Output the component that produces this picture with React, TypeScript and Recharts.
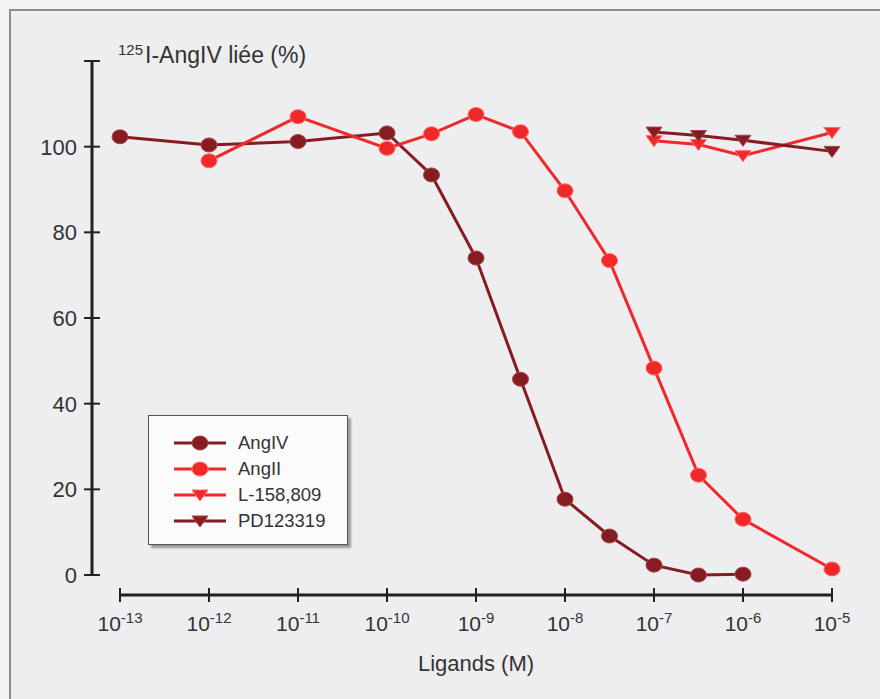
import React from 'react';
import { LineChart, Line, XAxis, YAxis, Legend } from 'recharts';

// log10 of the ligand concentration (M)
const angIVConc = [-13, -12, -11, -10, -9.5, -9, -8.5, -8, -7.5, -7, -6.5, -6];
const angIVBound = [102.3, 100.4, 101.2, 103.2, 93.4, 74, 45.7, 17.7, 9.1, 2.3, 0, 0.2];

const angIIConc = [-12, -11, -10, -9.5, -9, -8.5, -8, -7.5, -7, -6.5, -6, -5];
const angIIBound = [96.7, 107, 99.6, 103, 107.5, 103.5, 89.7, 73.4, 48.3, 23.3, 13, 1.4];

const antagConc = [-7, -6.5, -6, -5];
const l158809Bound = [101.4, 100.5, 97.9, 103.3];
const pd123319Bound = [103.4, 102.6, 101.5, 98.9];

const xTicks = [-13, -12, -11, -10, -9, -8, -7, -6, -5];
const yTicks = [0, 20, 40, 60, 80, 100, 120];

const DARK = '#861c21';
const RED = '#f0282a';
const FONT = '"Liberation Sans", Arial, Helvetica, sans-serif';

const toPoints = (xs: number[], ys: number[]) => xs.map((x, i) => ({ x, y: ys[i] }));

const series = [
  { name: 'AngIV', data: toPoints(angIVConc, angIVBound), color: DARK, shape: 'circle' },
  { name: 'AngII', data: toPoints(angIIConc, angIIBound), color: RED, shape: 'circle' },
  { name: 'L-158,809', data: toPoints(antagConc, l158809Bound), color: RED, shape: 'triangle' },
  { name: 'PD123319', data: toPoints(antagConc, pd123319Bound), color: DARK, shape: 'triangle' },
];

function Marker({ cx, cy, color, shape }: any) {
  const edge = color === DARK ? '#a34446' : '#ff6a62';
  if (shape === 'triangle') {
    return (
      <polygon
        points={`${cx - 8},${cy - 5} ${cx + 8},${cy - 5} ${cx},${cy + 6}`}
        fill={color}
        stroke={edge}
        strokeWidth={1}
      />
    );
  }
  return <ellipse cx={cx} cy={cy} rx={8} ry={7} fill={color} stroke={edge} strokeWidth={1} />;
}

function XTick({ x, y, payload }: any) {
  return (
    <g>
      <line x1={x} x2={x} y1={y - 7} y2={y + 7} stroke="#222" strokeWidth={2} />
      <text x={x} y={y + 36} textAnchor="middle" fontSize={21} fill="#333" fontFamily={FONT}>
        10
        <tspan dy={-8} fontSize={15}>
          {payload.value}
        </tspan>
      </text>
    </g>
  );
}

function YTick({ x, y, payload }: any) {
  return (
    <g>
      <line x1={x - 8} x2={x + 8} y1={y} y2={y} stroke="#222" strokeWidth={2} />
      {payload.value !== 120 && (
        <text x={x - 15} y={y + 8} textAnchor="end" fontSize={22} fill="#333" fontFamily={FONT}>
          {payload.value}
        </text>
      )}
    </g>
  );
}

function LegendBox() {
  return (
    <div
      style={{
        width: 200,
        height: 130,
        boxSizing: 'border-box',
        background: '#fbfbfb',
        border: '1.5px solid #555',
        boxShadow: '3px 3px 2px rgba(0,0,0,0.35)',
        paddingTop: 14,
        paddingLeft: 24,
        fontFamily: FONT,
      }}
    >
      {series.map((s) => (
        <div key={s.name} style={{ display: 'flex', alignItems: 'center', height: 26 }}>
          <svg width={54} height={20}>
            <line x1={1} x2={53} y1={10} y2={10} stroke={s.color} strokeWidth={3} />
            <Marker cx={27} cy={10} color={s.color} shape={s.shape} />
          </svg>
          <span style={{ marginLeft: 11, fontSize: 18.5, color: '#333' }}>{s.name}</span>
        </div>
      ))}
    </div>
  );
}

export default function App() {
  return (
    <div
      style={{
        position: 'absolute',
        left: 0,
        top: 0,
        width: 880,
        height: 699,
        overflow: 'hidden',
        background: '#f6f5f6',
        fontFamily: FONT,
      }}
    >
      <div
        style={{
          position: 'absolute',
          left: 9,
          top: 9,
          width: 900,
          height: 720,
          borderTop: '2px solid #8e8e92',
          borderLeft: '2px solid #8e8e92',
          background: '#eeedef',
        }}
      />
      <div
        style={{
          position: 'absolute',
          left: 118,
          top: 41,
          fontSize: 23,
          color: '#333',
          whiteSpace: 'nowrap',
        }}
      >
        <span style={{ fontSize: 15, verticalAlign: 8, marginRight: 2 }}>125</span>I-AngIV liée (%)
      </div>
      <div style={{ position: 'absolute', left: 0, top: 0 }}>
        <LineChart width={880} height={699} margin={{ top: 61, right: 48, bottom: 24, left: 0 }}>
          <XAxis
            xAxisId="main"
            type="number"
            dataKey="x"
            domain={[-13, -5]}
            ticks={xTicks}
            height={80}
            axisLine={{ stroke: '#222', strokeWidth: 3 }}
            tickLine={false}
            tickSize={0}
            tickMargin={0}
            tick={<XTick />}
            label={{
              value: 'Ligands (M)',
              position: 'insideBottom',
              offset: 4,
              fill: '#333',
              fontSize: 22,
              fontFamily: FONT,
            }}
          />
          <XAxis
            xAxisId="a"
            type="number"
            dataKey="x"
            domain={[-13, -5]}
            height={20}
            axisLine={false}
            tickLine={false}
            tick={false}
          />
          <YAxis
            yAxisId="main"
            type="number"
            domain={[0, 120]}
            ticks={yTicks}
            width={92}
            axisLine={{ stroke: '#222', strokeWidth: 3 }}
            tickLine={false}
            tickSize={0}
            tickMargin={0}
            tick={<YTick />}
          />
          <YAxis
            yAxisId="a"
            type="number"
            domain={[0, 120]}
            width={28}
            axisLine={false}
            tickLine={false}
            tick={false}
          />
          <Legend
            layout="vertical"
            align="center"
            verticalAlign="middle"
            content={<LegendBox />}
            wrapperStyle={{ left: 148, top: 415, width: 200, height: 130 }}
          />
          {series.map((s) => (
            <Line
              key={s.name}
              xAxisId="main"
              yAxisId="main"
              name={s.name}
              data={s.data}
              dataKey="y"
              stroke={s.color}
              strokeWidth={3}
              isAnimationActive={false}
              dot={(p: any) => (
                <Marker key={`${s.name}-${p.index}`} cx={p.cx} cy={p.cy} color={s.color} shape={s.shape} />
              )}
              activeDot={false}
            />
          ))}
        </LineChart>
      </div>
    </div>
  );
}
